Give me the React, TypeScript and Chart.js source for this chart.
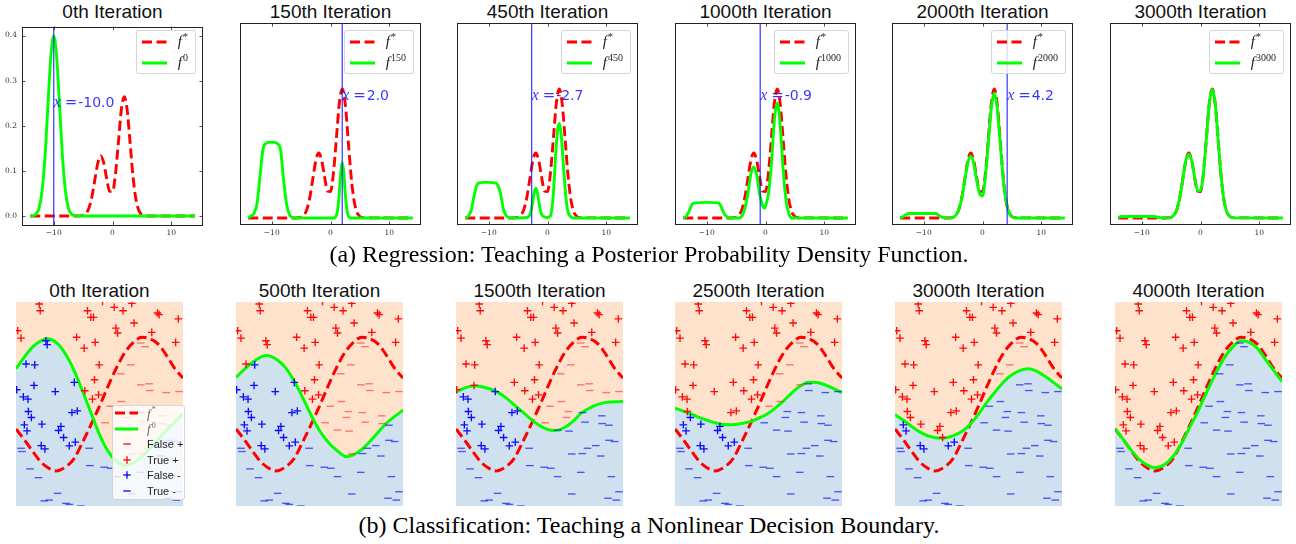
import React, { useEffect, useRef } from "react";
import { Chart, registerables } from "chart.js";

Chart.register(...registerables);

type P = [number, number];

// ================= (a) Regression panels =================
const topTitles = ["0th Iteration", "150th Iteration", "450th Iteration", "1000th Iteration", "2000th Iteration", "3000th Iteration"];
const topIterations = ["0", "150", "450", "1000", "2000", "3000"];
const probeXs: (number | null)[] = [-10.0, 2.0, -2.7, -0.9, 4.2, null];
const probeLabels = ["-10.0", "2.0", "-2.7", "-0.9", "4.2", ""];
const topXTicks = [-10, 0, 10];
const topYTicks = [0, 0.1, 0.2, 0.3, 0.4];
const topXRange: P = [-15.4, 15.4];
const firstYRange: P = [-0.02, 0.42];
const otherYRange: P = [-0.0145, 0.4];
const probeTextY = 0.25;

const fStar: P[] = [
  [-14, 0], [-6, 0], [-5.5, 0.0003], [-5, 0.0015], [-4.5, 0.0058], [-4, 0.018], [-3.5, 0.0432], [-3, 0.0807],
  [-2.5, 0.1174], [-2, 0.1331], [-1.5, 0.118], [-1, 0.0836], [-0.5, 0.0548], [0, 0.054], [0.5, 0.0922],
  [1, 0.1628], [1.5, 0.235], [2, 0.2645], [2.5, 0.2347], [3, 0.1613], [3.5, 0.0863], [4, 0.036], [4.5, 0.0117],
  [5, 0.003], [5.5, 0.0006], [6, 0.0001], [14, 0],
];
const f0: P[] = [
  [-14, 0.0001], [-13.5, 0.0009], [-13, 0.0044], [-12.5, 0.0175], [-12, 0.054], [-11.5, 0.1295], [-11, 0.242],
  [-10.5, 0.3521], [-10, 0.3989], [-9.5, 0.3521], [-9, 0.242], [-8.5, 0.1295], [-8, 0.054], [-7.5, 0.0175],
  [-7, 0.0044], [-6.5, 0.0009], [-6, 0.0001], [14, 0],
];
const f150: P[] = [
  [-14, 0], [-13.5, 0.004], [-13, 0.01], [-12.5, 0.03], [-12, 0.085], [-11.5, 0.14], [-11, 0.153], [-10.5, 0.155],
  [-10, 0.155], [-9.5, 0.155], [-9, 0.152], [-8.5, 0.14], [-8, 0.08], [-7.5, 0.03], [-7, 0.007], [-6.5, 0.001],
  [-6, 0], [0.5, 0], [1, 0.005], [1.25, 0.02], [1.5, 0.052], [1.75, 0.094], [2, 0.114], [2.25, 0.094], [2.5, 0.052],
  [2.75, 0.02], [3, 0.005], [3.5, 0], [14, 0],
];
const f450: P[] = [
  [-14, 0], [-13.5, 0.003], [-13, 0.015], [-12.5, 0.045], [-12, 0.068], [-11.5, 0.072], [-11, 0.073], [-10, 0.073],
  [-9, 0.072], [-8.5, 0.068], [-8, 0.05], [-7.5, 0.018], [-7, 0.004], [-6.5, 0.001], [-6, 0], [-3.5, 0.001],
  [-3, 0.006], [-2.75, 0.018], [-2.5, 0.035], [-2.25, 0.053], [-2, 0.061], [-1.75, 0.053], [-1.5, 0.035],
  [-1.25, 0.018], [-1, 0.007], [-0.5, 0.002], [0, 0.001], [0.5, 0.004], [0.75, 0.02], [1, 0.05], [1.25, 0.1],
  [1.5, 0.15], [1.75, 0.183], [2, 0.194], [2.25, 0.18], [2.5, 0.145], [2.75, 0.1], [3, 0.06], [3.25, 0.03],
  [3.5, 0.012], [4, 0.002], [4.5, 0], [14, 0],
];
const f1000: P[] = [
  [-14, 0], [-13.5, 0.003], [-13, 0.014], [-12.5, 0.028], [-12, 0.031], [-10, 0.032], [-8, 0.031], [-7.5, 0.022],
  [-7, 0.008], [-6.5, 0.002], [-6, 0], [-4.5, 0], [-4, 0.004], [-3.5, 0.02], [-3, 0.05], [-2.5, 0.09], [-2, 0.104],
  [-1.5, 0.088], [-1, 0.05], [-0.5, 0.025], [-0.2, 0.02], [0, 0.024], [0.5, 0.05], [1, 0.11], [1.5, 0.2],
  [2, 0.236], [2.5, 0.19], [3, 0.1], [3.5, 0.035], [4, 0.008], [4.5, 0], [14, 0],
];
const f2000: P[] = [
  [-14, 0], [-13.5, 0.003], [-13, 0.007], [-12.5, 0.009], [-10, 0.009], [-8, 0.009], [-7.5, 0.006], [-7, 0.002],
  [-6.5, 0.0005], [-6, 0.0002], [-5.5, 0.0004], [-5, 0.0015], [-4.5, 0.006], [-4, 0.018], [-3.5, 0.042],
  [-3, 0.078], [-2.5, 0.113], [-2, 0.127], [-1.5, 0.112], [-1, 0.078], [-0.5, 0.05], [0, 0.045], [0.5, 0.085],
  [1, 0.155], [1.5, 0.226], [2, 0.256], [2.5, 0.226], [3, 0.155], [3.5, 0.083], [4, 0.035], [4.5, 0.011],
  [5, 0.003], [5.5, 0.0005], [6, 0], [14, 0],
];
const f3000: P[] = [
  [-14, 0.001], [-13.5, 0.003], [-13, 0.003], [-8, 0.003], [-7.5, 0.002], [-7, 0.001], [-6.5, 0], [-6, 0.0001],
  [-5.5, 0.0003], [-5, 0.0015], [-4.5, 0.0058], [-4, 0.018], [-3.5, 0.0432], [-3, 0.0807], [-2.5, 0.1174],
  [-2, 0.131], [-1.5, 0.118], [-1, 0.0836], [-0.5, 0.056], [0, 0.056], [0.5, 0.0922], [1, 0.1628], [1.5, 0.235],
  [2, 0.2635], [2.5, 0.2347], [3, 0.1613], [3.5, 0.0863], [4, 0.036], [4.5, 0.0117], [5, 0.003], [5.5, 0.0006],
  [6, 0.0001], [14, 0],
];
const topGreens = [f0, f150, f450, f1000, f2000, f3000];

// ================= (b) Classification panels =================
const bottomTitles = ["0th Iteration", "500th Iteration", "1500th Iteration", "2500th Iteration", "3000th Iteration", "4000th Iteration"];
const bottomRange: P = [0, 100];

const fStarB: P[] = [
  [0, 37.8], [5, 32.5], [10, 26.7], [15, 21.5], [20, 18.3], [24, 17.2], [30, 19.3], [35, 23.5], [40, 31.5],
  [45, 40], [50, 49], [55, 58.5], [60, 67.5], [65, 75], [70, 80], [75.5, 82.7], [80, 82], [85, 79.5], [90, 74],
  [95, 67.5], [100, 62.7],
];
const gB0: P[] = [
  [0, 67.3], [5, 73], [10, 78], [18.6, 82], [25, 79.5], [30, 74], [35, 66], [40, 56], [45, 45.5], [50, 35],
  [55, 27], [60, 22], [65, 20], [70, 21], [80, 28], [90, 37], [100, 45.2],
];
const gB500: P[] = [
  [0, 63], [5, 67], [10, 70.5], [18, 73.8], [25, 71.5], [30, 67.5], [35, 61], [40, 53], [45, 44.5], [50, 37],
  [55, 31.5], [60, 27.5], [66, 24.2], [70, 25], [75, 27.5], [80, 31.5], [90, 40.5], [100, 47],
];
const gB1500: P[] = [
  [0, 55.8], [5, 57.8], [11, 59], [20, 57.5], [25, 55.7], [30, 53], [35, 49.5], [40, 46], [45, 42.5], [50, 39.5],
  [55, 37.5], [59, 37], [65, 38.5], [70, 41.5], [75, 45.5], [80, 48], [85, 49.8], [90, 50.8], [100, 51.2],
];
const gB2500: P[] = [
  [0, 48], [5, 46.5], [10, 45], [15, 43.2], [20, 41.8], [27, 40.2], [34, 39.8], [40, 40.5], [46, 41.6], [50, 43],
  [55, 45], [60, 48], [65, 51.5], [70, 55.5], [75, 58.8], [80, 60.7], [85, 60.5], [90, 59.3], [95, 57.5], [100, 55.6],
];
const gB3000: P[] = [
  [0, 44.7], [5, 42], [10, 39], [15, 36.2], [20, 34.3], [28, 33.2], [35, 34.5], [40, 36.5], [45, 40], [50, 45],
  [55, 50.8], [60, 56], [65, 60.8], [70, 64.3], [75, 66.5], [80, 67.3], [85, 66], [90, 63.5], [95, 60.5], [100, 57.4],
];
const gB4000: P[] = [
  [0, 38.1], [5, 32.5], [10, 27], [15, 22.5], [20, 19.8], [24, 18.8], [30, 20.5], [35, 24.5], [40, 31], [45, 39],
  [50, 47], [55, 56], [60, 64.5], [65, 72], [70, 77.5], [75.7, 81], [80, 80.3], [85, 77.5], [90, 72], [95, 66.5],
  [100, 61],
];
const bottomGreens = [gB0, gB500, gB1500, gB2500, gB3000, gB4000];

// samples with true label "+"
const plusPoints: P[] = [
  [13.9, 99.0], [14.5, 95.7], [42.8, 95.7], [44.8, 92.5], [46.4, 92.5], [58.8, 97.4], [64.1, 95.7], [69.3, 99.3],
  [84.7, 94.6], [85.7, 93.8], [97.2, 91.7], [1.0, 85.9], [3.0, 82.3], [17.9, 81.0], [18.7, 79.1], [36.3, 82.7],
  [40.8, 77.4], [47.4, 80.2], [59.8, 87.2], [60.8, 84.8], [70.7, 89.7], [81.3, 85.1], [95.6, 80.2], [6.0, 69.6],
  [11.2, 69.2], [49.8, 69.2], [10.8, 59.1], [34.9, 60.6], [47.0, 61.9], [0.4, 57.0], [23.5, 56.1], [41.2, 56.5],
  [4.4, 53.5], [7.2, 52.4], [45.8, 52.4], [49.4, 54.5], [7.4, 46.3], [9.2, 43.4], [33.5, 45.8], [36.7, 46.6],
  [5.0, 39.8], [6.6, 36.8], [15.5, 40.1], [25.5, 37.0], [26.9, 39.0], [28.5, 33.6], [15.1, 29.6], [17.3, 28.0],
  [31.9, 29.5], [35.5, 31.3], [51.8, 100.3],
];
// samples with true label "-"
const minusPoints: P[] = [
  [68.7, 69.2], [62.7, 64.8], [74.7, 59.4], [79.7, 59.9], [80.1, 56.6], [90.0, 55.6], [97.6, 56.1], [63.1, 51.2],
  [56.4, 48.9], [67.3, 46.3], [75.7, 45.8], [66.1, 43.4], [87.3, 44.2], [53.4, 40.8], [77.3, 41.1], [87.6, 40.4],
  [91.6, 39.6], [60.8, 37.2], [67.7, 36.7], [91.6, 32.2], [95.0, 31.6], [78.7, 28.3], [83.7, 29.6], [3.0, 28.3],
  [3.6, 26.7], [69.3, 25.5], [75.7, 25.7], [86.7, 24.5], [44.2, 19.8], [43.8, 28.3], [8.4, 18.2], [52.8, 19.0],
  [56.8, 18.5], [74.7, 16.5], [13.5, 13.9], [60.8, 14.4], [93.0, 14.4], [97.6, 7.0], [24.9, 6.2], [69.3, 5.9],
  [91.0, 3.8], [96.0, 2.9], [16.9, 2.5], [19.9, 2.9], [29.9, 1.3], [31.9, 0.8], [38.8, 0.0], [74.7, 79.9],
  [77.3, 78.1],
];

// ================= styling =================
const RED = "#ff0000";
const GREEN = "#00ff00";
const PEACH = "rgb(254,226,204)";
const LIGHTBLUE = "rgb(207,225,238)";
const RED_PLUS = "rgba(255,0,0,0.95)";
const RED_MINUS = "rgba(255,40,40,0.6)";
const BLUE_PLUS = "rgba(0,0,255,0.95)";
const BLUE_MINUS = "rgba(20,20,255,0.7)";
const DASH = [10, 4.5];

const toXY = (arr: P[]) => arr.map(([x, y]) => ({ x, y }));

function valueAt(curve: P[], x: number): number {
  for (let k = 0; k < curve.length - 1; k++) {
    const [x0, y0] = curve[k];
    const [x1, y1] = curve[k + 1];
    if (x >= x0 && x <= x1) return y0 + ((y1 - y0) * (x - x0)) / (x1 - x0);
  }
  return x < curve[0][0] ? curve[0][1] : curve[curve.length - 1][1];
}

const fmtTick = (v: number, digits: number) => {
  const s = Math.abs(v).toFixed(digits);
  return v < 0 ? "\u2212" + s : s;
};

function LineSample({ color, dashed, width = 25 }: { color: string; dashed?: boolean; width?: number }) {
  return (
    <svg width={width} height={8} style={{ display: "block", flex: "none" }}>
      <line x1={0} y1={4} x2={width} y2={4} stroke={color} strokeWidth={3} strokeDasharray={dashed ? DASH.join(" ") : undefined} />
    </svg>
  );
}

function MathF({ sup, size = 15, color = "#222" }: { sup: string; size?: number; color?: string }) {
  return (
    <span style={{ fontFamily: '"Liberation Serif", serif', fontStyle: "italic", fontSize: size, color, whiteSpace: "nowrap", lineHeight: 1 }}>
      f
      <span style={{ fontStyle: "normal", fontSize: Math.round(size * 0.64), position: "relative", top: -size * 0.42, marginLeft: 1 }}>{sup}</span>
    </span>
  );
}

function Marker({ kind, color }: { kind: "plus" | "minus"; color: string }) {
  return (
    <svg width={10} height={10} style={{ display: "block" }}>
      <line x1={1.3} y1={5} x2={8.7} y2={5} stroke={color} strokeWidth={1.3} />
      {kind === "plus" && <line x1={5} y1={1.3} x2={5} y2={8.7} stroke={color} strokeWidth={1.3} />}
    </svg>
  );
}

// ================= top panel =================
const T_PADL = 24, T_PADT = 6, T_PADR = 6, T_PADB = 20, T_W = 181, T_H = 202, T_TOP = 23;
const TITLE_FONT = '19px "Liberation Sans", sans-serif';

function TopPanel({ idx }: { idx: number }) {
  const ref = useRef<HTMLCanvasElement>(null);
  const left = Math.round(22 + 217.6 * idx);
  const cw = T_PADL + T_W + T_PADR;
  const ch = T_PADT + T_H + T_PADB;

  useEffect(() => {
    const showY = idx === 0;
    const yr = showY ? firstYRange : otherYRange;
    const probe = probeXs[idx];
    const label = probeLabels[idx];
    const datasets: any[] = [];
    if (probe !== null) {
      datasets.push({
        data: [{ x: probe, y: yr[0] }, { x: probe, y: yr[1] }],
        borderColor: "rgba(20,20,255,0.8)",
        borderWidth: 1.3,
        pointRadius: 0,
        showLine: true,
      });
    }
    datasets.push({
      data: toXY(topGreens[idx]),
      borderColor: GREEN,
      borderWidth: 2.9,
      pointRadius: 0,
      cubicInterpolationMode: "monotone",
      fill: false,
    });
    datasets.push({
      data: toXY(fStar),
      borderColor: RED,
      borderWidth: 2.9,
      borderDash: DASH,
      pointRadius: 0,
      cubicInterpolationMode: "monotone",
      fill: false,
    });

    const framePlugin = {
      id: "frameTicks",
      afterDatasetsDraw(chart: any) {
        const { ctx, chartArea: a, scales } = chart;
        ctx.save();
        ctx.strokeStyle = "#222";
        ctx.lineWidth = 1;
        ctx.strokeRect(Math.round(a.left) + 0.5, Math.round(a.top) + 0.5, Math.round(a.right - a.left) - 1, Math.round(a.bottom - a.top) - 1);
        ctx.lineWidth = 0.8;
        const L = 3.5;
        ctx.beginPath();
        topXTicks.forEach((v) => {
          const px = Math.round(scales.x.getPixelForValue(v)) + 0.5;
          ctx.moveTo(px, a.bottom);
          ctx.lineTo(px, a.bottom - L);
          ctx.moveTo(px, a.top);
          ctx.lineTo(px, a.top + L);
        });
        if (showY) {
          topYTicks.forEach((v) => {
            const py = Math.round(scales.y.getPixelForValue(v)) + 0.5;
            ctx.moveTo(a.left, py);
            ctx.lineTo(a.left + L, py);
            ctx.moveTo(a.right, py);
            ctx.lineTo(a.right - L, py);
          });
        }
        ctx.stroke();
        ctx.restore();
      },
    };
    const textPlugin = {
      id: "probeText",
      afterDatasetsDraw(chart: any) {
        if (probe === null) return;
        const { ctx, scales } = chart;
        const px = scales.x.getPixelForValue(probe);
        const py = scales.y.getPixelForValue(probeTextY);
        ctx.save();
        ctx.fillStyle = "rgba(10,10,255,0.82)";
        ctx.textBaseline = "middle";
        ctx.textAlign = "left";
        ctx.font = 'italic 16px "Liberation Serif"';
        ctx.fillText("x", px, py);
        ctx.font = '15px "DejaVu Serif"';
        ctx.fillText("=", px + 11, py);
        ctx.font = '14px "DejaVu Sans"';
        ctx.fillText(label, px + 24.5, py);
        ctx.restore();
      },
    };

    const tickFont = { family: '"DejaVu Serif", serif', size: 7.5 };
    const chart = new Chart(ref.current as HTMLCanvasElement, {
      type: "line",
      data: { datasets },
      options: {
        animation: false,
        responsive: false,
        events: [],
        layout: { autoPadding: false, padding: { top: T_PADT, right: T_PADR, left: 0, bottom: 0 } },
        plugins: { legend: { display: false }, tooltip: { enabled: false } },
        scales: {
          x: {
            type: "linear",
            min: topXRange[0],
            max: topXRange[1],
            afterFit: (s: any) => { s.height = T_PADB; },
            afterBuildTicks: (s: any) => { s.ticks = topXTicks.map((v) => ({ value: v })); },
            grid: { display: false, drawTicks: false },
            border: { display: false },
            ticks: { padding: 4, color: "#333", font: tickFont, autoSkip: false, maxRotation: 0, callback: (v: any) => fmtTick(Number(v), 0) },
          },
          y: {
            type: "linear",
            min: yr[0],
            max: yr[1],
            afterFit: (s: any) => { s.width = T_PADL; },
            afterBuildTicks: (s: any) => { s.ticks = topYTicks.map((v) => ({ value: v })); },
            grid: { display: false, drawTicks: false },
            border: { display: false },
            ticks: { display: showY, padding: 5, color: "#333", font: tickFont, callback: (v: any) => fmtTick(Number(v), 1) },
          },
        },
      } as any,
      plugins: [framePlugin, textPlugin],
    });
    return () => chart.destroy();
  }, [idx]);

  const center = left + T_W / 2;
  return (
    <>
      <div style={{ position: "absolute", left: center - 120, width: 240, top: 2.2, textAlign: "center", font: TITLE_FONT, lineHeight: "19px", color: "#111" }}>
        {topTitles[idx]}
      </div>
      <div style={{ position: "absolute", left: left - T_PADL, top: T_TOP - T_PADT, width: cw, height: ch }}>
        <canvas ref={ref} width={cw} height={ch} style={{ display: "block" }} />
        <div
          style={{
            position: "absolute",
            right: T_PADR + 7,
            top: T_PADT + 7,
            background: "rgba(255,255,255,0.8)",
            border: "1px solid rgba(204,204,204,0.8)",
            borderRadius: 3,
            padding: "0 7px 0 5px",
          }}
        >
          <div style={{ display: "flex", alignItems: "center", height: 21 }}>
            <LineSample color={RED} dashed />
            <div style={{ width: 11 }} />
            <MathF sup="*" />
          </div>
          <div style={{ display: "flex", alignItems: "center", height: 21 }}>
            <LineSample color={GREEN} />
            <div style={{ width: 11 }} />
            <MathF sup={topIterations[idx]} />
          </div>
        </div>
      </div>
    </>
  );
}

// ================= bottom panel =================
const B_W = 167, B_H = 204, B_TOP = 302;

function BottomPanel({ idx }: { idx: number }) {
  const ref = useRef<HTMLCanvasElement>(null);
  const left = Math.round(15.7 + 219.9 * idx);

  useEffect(() => {
    const g = bottomGreens[idx];
    const above = (p: P) => p[1] > valueAt(g, p[0]);
    const truePlus = plusPoints.filter(above);
    const falseMinus = plusPoints.filter((p) => !above(p));
    const falsePlus = minusPoints.filter(above);
    const trueMinus = minusPoints.filter((p) => !above(p));
    const pts = (arr: P[], style: string, color: string) => ({
      data: toXY(arr),
      showLine: false,
      pointStyle: style,
      pointRadius: 3.8,
      pointBorderWidth: 1.35,
      pointBorderColor: color,
      pointBackgroundColor: color,
      clip: 0,
      fill: false,
    });
    const datasets: any[] = [
      pts(truePlus, "cross", RED_PLUS),
      pts(falseMinus, "cross", BLUE_PLUS),
      pts(falsePlus, "line", RED_MINUS),
      pts(trueMinus, "line", BLUE_MINUS),
      {
        data: toXY(g),
        borderColor: GREEN,
        borderWidth: 3,
        pointRadius: 0,
        cubicInterpolationMode: "monotone",
        fill: "start",
        backgroundColor: LIGHTBLUE,
        clip: 0,
      },
      {
        data: toXY(fStarB),
        borderColor: RED,
        borderWidth: 3,
        borderDash: DASH,
        pointRadius: 0,
        cubicInterpolationMode: "monotone",
        fill: false,
        clip: 0,
      },
      {
        data: toXY(g),
        borderColor: "rgba(0,0,0,0)",
        borderWidth: 0,
        pointRadius: 0,
        cubicInterpolationMode: "monotone",
        fill: "end",
        backgroundColor: PEACH,
        clip: 0,
      },
    ];
    const chart = new Chart(ref.current as HTMLCanvasElement, {
      type: "line",
      data: { datasets },
      options: {
        animation: false,
        responsive: false,
        events: [],
        layout: { autoPadding: false, padding: 0 },
        plugins: {
          legend: { display: false },
          tooltip: { enabled: false },
          filler: { propagate: false, drawTime: "beforeDatasetsDraw" },
        },
        scales: {
          x: { type: "linear", display: false, min: bottomRange[0], max: bottomRange[1] },
          y: { type: "linear", display: false, min: bottomRange[0], max: bottomRange[1] },
        },
      } as any,
    });
    return () => chart.destroy();
  }, [idx]);

  const center = left + B_W / 2;
  const legendRows: { key: string; node: React.ReactNode; label: React.ReactNode }[] = [
    { key: "fs", node: <LineSample color={RED} dashed width={23} />, label: <MathF sup="*" size={13} color="#666" /> },
    { key: "f0", node: <LineSample color={GREEN} width={23} />, label: <MathF sup="0" size={13} color="#666" /> },
    { key: "fp", node: <Marker kind="minus" color={RED} />, label: "False +" },
    { key: "tp", node: <Marker kind="plus" color={RED} />, label: "True +" },
    { key: "fm", node: <Marker kind="plus" color="#0000ff" />, label: "False -" },
    { key: "tm", node: <Marker kind="minus" color="#0000ff" />, label: "True -" },
  ];
  return (
    <>
      <div style={{ position: "absolute", left: center - 120, width: 240, top: 280.6, textAlign: "center", font: TITLE_FONT, lineHeight: "19px", color: "#111" }}>
        {bottomTitles[idx]}
      </div>
      <div style={{ position: "absolute", left, top: B_TOP, width: B_W, height: B_H }}>
        <canvas ref={ref} width={B_W} height={B_H} style={{ display: "block" }} />
        {idx === 0 && (
          <div
            style={{
              position: "absolute",
              left: 96,
              top: 103,
              width: 73,
              height: 95,
              boxSizing: "border-box",
              background: "rgba(255,255,255,0.8)",
              border: "1px solid rgba(204,204,204,0.8)",
              borderRadius: 3,
            }}
          >
            {legendRows.map((r, k) => (
              <div key={r.key} style={{ position: "absolute", left: 0, right: 0, top: 7.3 + 15.5 * k - 7, height: 14, display: "flex", alignItems: "center" }}>
                <div style={{ position: "absolute", left: 2, width: 23, display: "flex", justifyContent: "center" }}>{r.node}</div>
                <div style={{ position: "absolute", left: 34, font: '11px "Liberation Sans", sans-serif', color: "#222", whiteSpace: "nowrap" }}>{r.label}</div>
              </div>
            ))}
          </div>
        )}
      </div>
    </>
  );
}

export default function App() {
  const idxs = [0, 1, 2, 3, 4, 5];
  return (
    <div style={{ position: "absolute", left: 0, top: 0, width: 1296, height: 544, background: "#fff", overflow: "hidden" }}>
      {idxs.map((i) => (
        <TopPanel key={"t" + i} idx={i} />
      ))}
      <div style={{ position: "absolute", left: 0, width: 1298, top: 242.4, textAlign: "center", font: '24px "Liberation Serif", serif', lineHeight: "24px", color: "#000", whiteSpace: "nowrap" }}>
        (a) Regression: Teaching a Posterior Probability Density Function.
      </div>
      {idxs.map((i) => (
        <BottomPanel key={"b" + i} idx={i} />
      ))}
      <div style={{ position: "absolute", left: 0, width: 1298, top: 513.4, textAlign: "center", font: '24px "Liberation Serif", serif', lineHeight: "24px", color: "#000", whiteSpace: "nowrap" }}>
        (b) Classification: Teaching a Nonlinear Decision Boundary.
      </div>
    </div>
  );
}
